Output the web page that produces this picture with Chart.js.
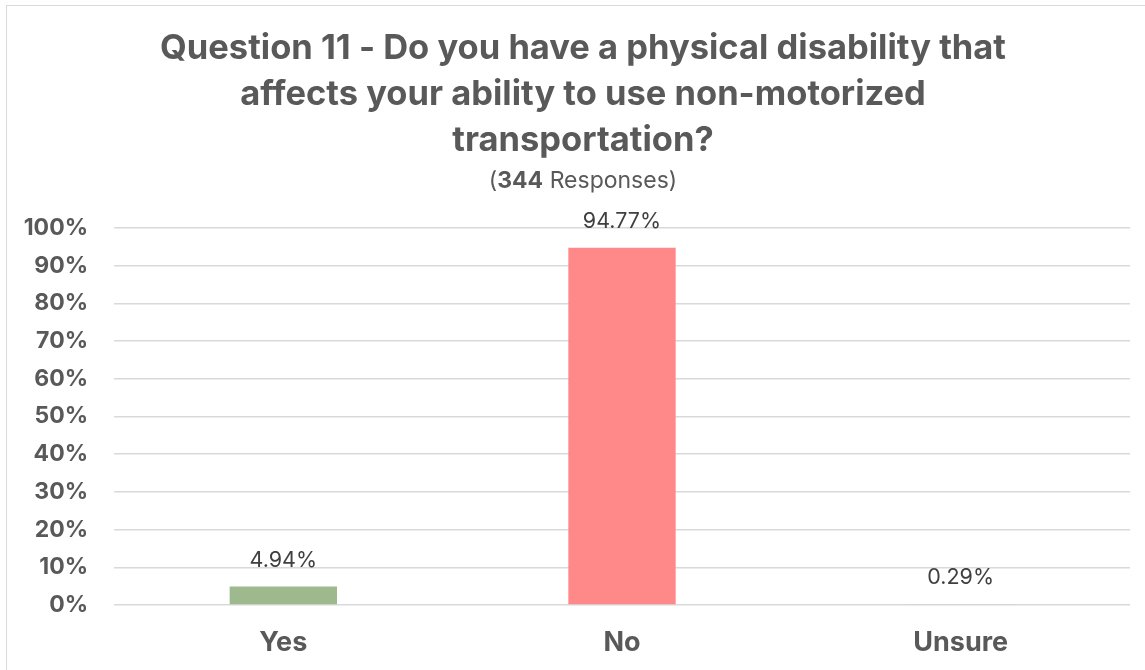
<!DOCTYPE html>
<html>
<head>
<meta charset="utf-8">
<script src="https://cdn.jsdelivr.net/npm/chart.js@4.4.1/dist/chart.umd.min.js"></script>
<style>
  html, body { margin: 0; padding: 0; background: #fff; }
  #wrap { position: absolute; left: 6px; top: 5px; width: 1145px; height: 670px;
          border-left: 1px solid #d9d9d9; border-top: 1px solid #d9d9d9; box-sizing: border-box; }
  #chart { position: absolute; left: 0; top: 0; }
</style>
</head>
<body>
<div id="wrap"></div>
<canvas id="chart" width="1145" height="670"></canvas>
<script>
const categories = ['Yes', 'No', 'Unsure'];
const percents = [4.94, 94.77, 0.29];
const barColors = ['#9fb98f', '#ff8989', '#cfcfcf'];
const titleLines = [
    'Question 11 - Do you have a physical disability that',
    'affects your ability to use non-motorized',
    'transportation?'
];
const responses = 344;

const FONT = 'Inter, "Noto Sans", sans-serif';
const GREY = '#595959';

// title block + "(344 Responses)" with the count in bold
const headerPlugin = {
    id: 'header',
    afterDraw(chart) {
        const ctx = chart.ctx;
        const cx = 583;
        ctx.save();
        ctx.fillStyle = GREY;
        ctx.textAlign = 'center';
        ctx.textBaseline = 'middle';
        ctx.font = 'bold 34.5px ' + FONT;
        titleLines.forEach((line, i) => {
            ctx.fillText(line, cx, 49 + i * 46);
        });
        const a = '(', b = String(responses), c = ' Responses)';
        const sz = 23;
        ctx.font = sz + 'px ' + FONT;
        const wa = ctx.measureText(a).width;
        const wc = ctx.measureText(c).width;
        ctx.font = 'bold ' + sz + 'px ' + FONT;
        const wb = ctx.measureText(b).width;
        let x = cx - (wa + wb + wc) / 2;
        ctx.textAlign = 'left';
        ctx.font = sz + 'px ' + FONT;
        ctx.fillText(a, x, 181);
        x += wa;
        ctx.font = 'bold ' + sz + 'px ' + FONT;
        ctx.fillText(b, x, 181);
        x += wb;
        ctx.font = sz + 'px ' + FONT;
        ctx.fillText(c, x, 181);
        ctx.restore();
    }
};

// value labels above each bar
const valueLabels = {
    id: 'valueLabels',
    afterDatasetsDraw(chart) {
        const ctx = chart.ctx;
        const meta = chart.getDatasetMeta(0);
        ctx.save();
        ctx.fillStyle = '#404040';
        ctx.font = '21.5px ' + FONT;
        ctx.textAlign = 'center';
        ctx.textBaseline = 'middle';
        meta.data.forEach((bar, i) => {
            ctx.fillText(percents[i].toFixed(2) + '%', bar.x, bar.y - 26);
        });
        ctx.restore();
    }
};

new Chart(document.getElementById('chart'), {
    type: 'bar',
    data: {
        labels: categories,
        datasets: [{
            data: percents,
            backgroundColor: barColors,
            borderWidth: 0,
            categoryPercentage: 1,
            barPercentage: 0.317
        }]
    },
    options: {
        responsive: false,
        animation: false,
        layout: { padding: { top: 228, right: 15, bottom: 0, left: 0 } },
        plugins: {
            legend: { display: false },
            title: { display: false },
            tooltip: { enabled: false }
        },
        scales: {
            x: {
                grid: { display: false },
                border: { display: false },
                afterFit(scale) { scale.height = 65; },
                ticks: { color: GREY, font: { family: FONT, size: 27, weight: 'bold' }, padding: 14 }
            },
            y: {
                min: 0,
                max: 100,
                grid: { color: '#d9d9d9', lineWidth: 1.5, drawTicks: false },
                border: { display: false },
                afterFit(scale) { scale.width = 114; },
                ticks: {
                    stepSize: 10,
                    color: GREY,
                    padding: 26,
                    font: { family: FONT, size: 23, weight: 'bold' },
                    callback: v => v + '%'
                }
            }
        }
    },
    plugins: [headerPlugin, valueLabels]
});
</script>
</body>
</html>
